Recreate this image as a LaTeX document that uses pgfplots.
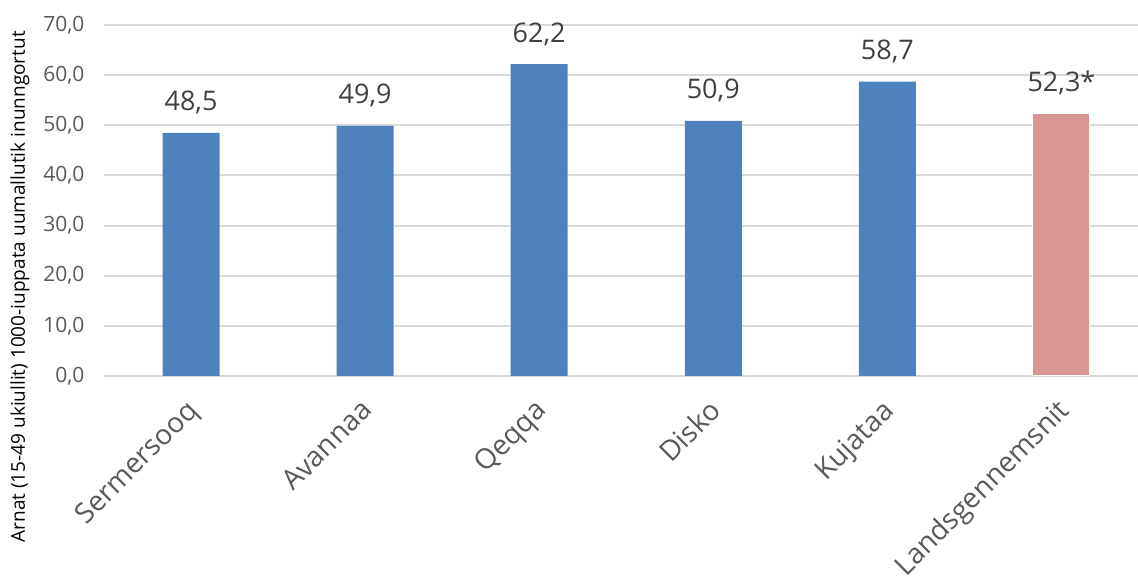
\documentclass[border=0pt]{standalone}
\usepackage{fontspec}
\setmainfont{Open Sans}
\usepackage{pgfplots}
\pgfplotsset{compat=1.18}
\definecolor{barblue}{HTML}{4F81BD}
\definecolor{barpink}{HTML}{D99694}
\definecolor{gridgray}{HTML}{D9D9D9}
\definecolor{txtgray}{HTML}{595959}
\definecolor{valgray}{HTML}{404040}

\begin{document}
\begin{tikzpicture}
\begin{axis}[
  name=ax,
  scale only axis,
  width=1034pt, height=351pt,
  xmin=-0.5, xmax=5.44,
  ymin=0, ymax=70,
  ytick={0,10,...,70},
  xtick={0,...,5},
  xticklabels={Sermersooq,Avannaa,Qeqqa,Disko,Kujataa,Landsgennemsnit},
  % shifts act in the rotated frame
  x tick label style={rotate=45, anchor=north east, font=\fontsize{28}{30}\selectfont, text=txtgray, xshift=-16pt, yshift=-7.5pt},
  y tick label style={font=\fontsize{21}{24}\selectfont, text=txtgray, xshift=-16pt},
  yticklabel style={/pgf/number format/.cd, fixed, fixed zerofill, precision=1, use comma},
  /pgf/number format/assume math mode=true,
  axis line style={draw=none},
  major tick length=0pt,
  ymajorgrids, grid style={gridgray, line width=2pt},
  ylabel={Arnat (15-49 ukiullit) 1000-iuppata uumallutik inunngortut},
  every axis y label/.style={at={(rel axis cs:0,0.254)}, xshift=-84pt, rotate=90, anchor=center, font=\fontsize{19}{22}\selectfont},
  ybar, bar width=57pt, bar shift=0pt,
  nodes near coords,
  every node near coord/.append style={font=\fontsize{27}{30}\selectfont, text=valgray, yshift=15pt,
    /pgf/number format/.cd, fixed, fixed zerofill, precision=1, use comma},
]
\addplot[fill=barblue, draw=none] coordinates {(0,48.5) (1,49.9) (2,62.2) (3,50.9) (4,58.7)};
\addplot[fill=barpink, draw=white, line width=1pt, nodes near coords={\pgfmathprintnumber{\pgfplotspointmeta}*}] coordinates {(5,52.3)};
\end{axis}
\pgfresetboundingbox
\path ([xshift=-104pt,yshift=-200pt]ax.south west) rectangle ([yshift=25pt]ax.north east);
\end{tikzpicture}
\end{document}
